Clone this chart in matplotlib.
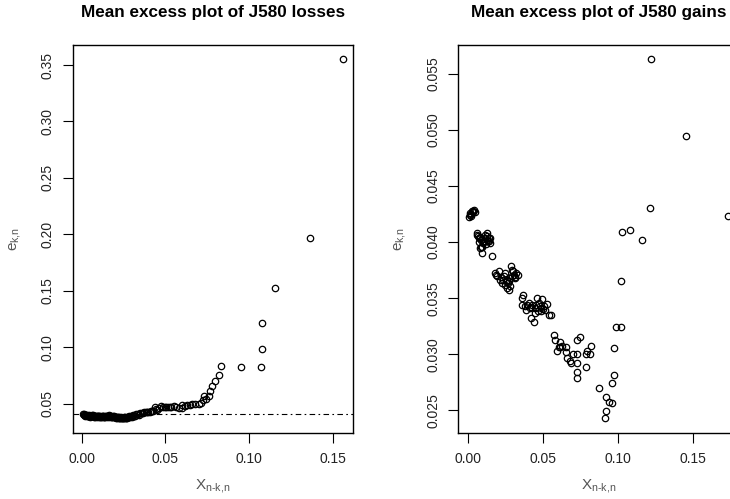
import matplotlib
matplotlib.use("Agg")
import matplotlib.pyplot as plt

# ---------------- data ----------------
loss_title = "Mean excess plot of J580 losses"
gain_title = "Mean excess plot of J580 gains"

loss_x = [0.0010, 0.0015, 0.0020, 0.0025, 0.0030, 0.0035, 0.0040, 0.0045, 0.0050, 0.0055,
          0.0060, 0.0065, 0.0070, 0.0075, 0.0080, 0.0085, 0.0090, 0.0095, 0.0100, 0.0105,
          0.0110, 0.0115, 0.0120, 0.0125, 0.0130, 0.0135, 0.0140, 0.0145, 0.0150, 0.0155,
          0.0160, 0.0165, 0.0170, 0.0175, 0.0180, 0.0185, 0.0190, 0.0195, 0.0200, 0.0205,
          0.0210, 0.0215, 0.0220, 0.0225, 0.0230, 0.0235, 0.0240, 0.0245, 0.0250, 0.0255,
          0.0260, 0.0265, 0.0270, 0.0275, 0.0280, 0.0287, 0.0295, 0.0306, 0.0315, 0.0327,
          0.0336, 0.0346, 0.0358, 0.0372, 0.0382, 0.0392, 0.0405, 0.0416, 0.0428, 0.0436,
          0.0446, 0.0460, 0.0472, 0.0485, 0.0495, 0.0505, 0.0515, 0.0525, 0.0535, 0.0550,
          0.0565, 0.0580, 0.0601, 0.0601, 0.0615, 0.0627, 0.0645, 0.0660, 0.0675, 0.0700,
          0.0712, 0.0724, 0.0728, 0.0740, 0.0760, 0.0764, 0.0778, 0.0798, 0.0818, 0.0830,
          0.0951, 0.1071, 0.1077, 0.1077, 0.1152, 0.1363, 0.1557,
          0.0012, 0.0022, 0.0032, 0.0042, 0.0052, 0.0062, 0.0072, 0.0082, 0.0092, 0.0102,
          0.0112, 0.0122, 0.0132, 0.0142, 0.0152, 0.0162, 0.0172, 0.0182, 0.0192, 0.0202,
          0.0212, 0.0222, 0.0232, 0.0242, 0.0252, 0.0262, 0.0272, 0.0282, 0.0300, 0.0320,
          0.0340, 0.0365, 0.0395, 0.0420, 0.0450]
loss_y = [0.0410, 0.0406, 0.0404, 0.0398, 0.0402, 0.0395, 0.0392, 0.0398, 0.0390, 0.0394,
          0.0400, 0.0396, 0.0402, 0.0393, 0.0390, 0.0396, 0.0392, 0.0388, 0.0394, 0.0390,
          0.0392, 0.0387, 0.0393, 0.0389, 0.0391, 0.0386, 0.0392, 0.0388, 0.0395, 0.0390,
          0.0398, 0.0392, 0.0388, 0.0391, 0.0386, 0.0390, 0.0384, 0.0388, 0.0382, 0.0386,
          0.0380, 0.0384, 0.0377, 0.0381, 0.0376, 0.0380, 0.0378, 0.0374, 0.0380, 0.0376,
          0.0383, 0.0378, 0.0385, 0.0381, 0.0388, 0.0385, 0.0392, 0.0399, 0.0396, 0.0407,
          0.0412, 0.0420, 0.0416, 0.0425, 0.0430, 0.0430, 0.0428, 0.0434, 0.0440, 0.0470,
          0.0456, 0.0465, 0.0480, 0.0472, 0.0470, 0.0470, 0.0470, 0.0475, 0.0470, 0.0476,
          0.0470, 0.0465, 0.0462, 0.0485, 0.0478, 0.0485, 0.0491, 0.0495, 0.0500, 0.0500,
          0.0510, 0.0529, 0.0573, 0.0545, 0.0573, 0.0617, 0.0661, 0.0706, 0.0756, 0.0838,
          0.0826, 0.0826, 0.0982, 0.1217, 0.1526, 0.1967, 0.3550,
          0.0402, 0.0396, 0.0393, 0.0388, 0.0386, 0.0391, 0.0387, 0.0384, 0.0386, 0.0383,
          0.0385, 0.0382, 0.0385, 0.0383, 0.0384, 0.0386, 0.0383, 0.0380, 0.0379, 0.0377,
          0.0375, 0.0373, 0.0372, 0.0371, 0.0372, 0.0373, 0.0376, 0.0379, 0.0383, 0.0395,
          0.0405, 0.0415, 0.0425, 0.0432, 0.0445]
loss_hline = 0.0409

gain_x = [0.0002, 0.0013, 0.0025, 0.0036, 0.0020, 0.0042, 0.0008, 0.0030, 0.0015, 0.0033,
          0.0058, 0.0080, 0.0114, 0.0136, 0.0147, 0.0092, 0.0103, 0.0069, 0.0125,
          0.0089, 0.0078, 0.0134, 0.0123, 0.0056, 0.0067, 0.0145, 0.0100, 0.0159,
          0.0085, 0.0095, 0.0110, 0.0118, 0.0072, 0.0084, 0.0128, 0.0140,
          0.0176, 0.0203, 0.0192, 0.0214, 0.0226, 0.0243, 0.0259, 0.0270, 0.0275, 0.0286,
          0.0293, 0.0304, 0.0320, 0.0333, 0.0310, 0.0237, 0.0248, 0.0259, 0.0281, 0.0266,
          0.0185, 0.0220, 0.0232, 0.0254, 0.0290, 0.0300, 0.0315, 0.0280,
          0.0364, 0.0360, 0.0360, 0.0382, 0.0404, 0.0387, 0.0427, 0.0420, 0.0438, 0.0444,
          0.0460, 0.0471, 0.0494, 0.0483, 0.0505, 0.0527, 0.0516, 0.0538, 0.0551, 0.0449,
          0.0464, 0.0489, 0.0420, 0.0395, 0.0412, 0.0455, 0.0478, 0.0500,
          0.0574, 0.0583, 0.0596, 0.0610, 0.0616, 0.0628, 0.0650, 0.0605, 0.0650, 0.0659,
          0.0677, 0.0688, 0.0697, 0.0724, 0.0730, 0.0730, 0.0730, 0.0730, 0.0750,
          0.0784, 0.0786, 0.0793, 0.0811, 0.0822, 0.0871, 0.0911, 0.0918, 0.0918, 0.0940,
          0.0958, 0.0963, 0.0974, 0.0974, 0.0990, 0.1020, 0.1020,
          0.1030, 0.1083, 0.1161, 0.1217, 0.1224, 0.1458, 0.1737]
gain_y = [0.04227, 0.04257, 0.04280, 0.04286, 0.04233, 0.04271, 0.04240, 0.04265, 0.04250, 0.04275,
          0.04064, 0.04049, 0.04064, 0.04035, 0.03990, 0.03960, 0.04005, 0.04035, 0.04020,
          0.03900, 0.03946, 0.04005, 0.04080, 0.04080, 0.04050, 0.04035, 0.03990, 0.03878,
          0.04020, 0.04000, 0.04040, 0.03980, 0.04000, 0.03960, 0.04050, 0.04010,
          0.03724, 0.03738, 0.03694, 0.03664, 0.03635, 0.03620, 0.03591, 0.03570, 0.03650, 0.03789,
          0.03753, 0.03709, 0.03724, 0.03709, 0.03680, 0.03694, 0.03724, 0.03664, 0.03680, 0.03635,
          0.03710, 0.03690, 0.03660, 0.03650, 0.03700, 0.03740, 0.03690, 0.03610,
          0.03531, 0.03500, 0.03442, 0.03427, 0.03457, 0.03398, 0.03442, 0.03323, 0.03285, 0.03369,
          0.03500, 0.03457, 0.03490, 0.03413, 0.03427, 0.03451, 0.03398, 0.03354, 0.03348, 0.03413,
          0.03383, 0.03383, 0.03420, 0.03440, 0.03410, 0.03440, 0.03430, 0.03400,
          0.03174, 0.03126, 0.03030, 0.03066, 0.03110, 0.03072, 0.03067, 0.03067, 0.03020, 0.02970,
          0.02939, 0.02925, 0.03007, 0.02792, 0.03126, 0.03007, 0.02919, 0.02845, 0.03156,
          0.03000, 0.02883, 0.03030, 0.03000, 0.03070, 0.02700, 0.02430, 0.02617, 0.02492, 0.02575,
          0.02741, 0.02563, 0.03060, 0.02812, 0.03247, 0.03247, 0.03649,
          0.04088, 0.04106, 0.04014, 0.04301, 0.05627, 0.04943, 0.04233]

loss_yticks = [0.05, 0.10, 0.15, 0.20, 0.25, 0.30, 0.35]
gain_yticks = [0.025, 0.030, 0.035, 0.040, 0.045, 0.050, 0.055]
xticks = [0.00, 0.05, 0.10, 0.15]

# ---------------- style ----------------
plt.rcParams['font.family'] = ['Liberation Sans', 'DejaVu Sans']
plt.rcParams['mathtext.fontset'] = 'custom'
plt.rcParams['mathtext.rm'] = 'Liberation Sans'
plt.rcParams['mathtext.it'] = 'Liberation Sans'

W, H = 730, 499
fig = plt.figure(figsize=(W / 100, H / 100), dpi=100)

def px_axes(x0, y0, x1, y1):
    return fig.add_axes([x0 / W, 1 - y1 / H, (x1 - x0) / W, (y1 - y0) / H])

ax1 = px_axes(73, 45, 353, 432.7)
ax2 = px_axes(458.3, 45, 738.3, 432.7)

def style(ax, title, yticks, yfmt):
    for s in ax.spines.values():
        s.set_linewidth(1.0)
        s.set_color('black')
    ax.margins(0.04)
    ax.set_xticks(xticks)
    ax.set_xticklabels([f"{t:.2f}" for t in xticks])
    ax.set_yticks(yticks)
    ax.set_yticklabels([yfmt.format(t) for t in yticks], rotation=90, va='center')
    ax.tick_params(direction='out', length=7, width=0.8, labelsize=10,
                   labelcolor='#222222')
    ax.tick_params(axis='x', pad=7)
    ax.tick_params(axis='y', pad=6)
    ax.set_title(title, fontsize=12.3, fontweight='bold', pad=20)
    ax.set_xlabel(r'$\mathregular{X_{n\text{-}k{,}n}}$', fontsize=11, color='#555555', labelpad=8)
    ax.set_ylabel(r'$\mathregular{e_{k{,}n}}$', fontsize=11, color='#555555', labelpad=13)

ax1.plot(loss_x, loss_y, 'o', mfc='none', mec='black', ms=4.6, mew=0.9)
style(ax1, loss_title, loss_yticks, "{:.2f}")
ax1.axhline(loss_hline, color='black', lw=0.8, ls=(0, (5, 3, 1.5, 3)))

ax2.plot(gain_x, gain_y, 'o', mfc='none', mec='black', ms=4.6, mew=0.9)
style(ax2, gain_title, gain_yticks, "{:.3f}")

fig.savefig("out.png", dpi=100)
